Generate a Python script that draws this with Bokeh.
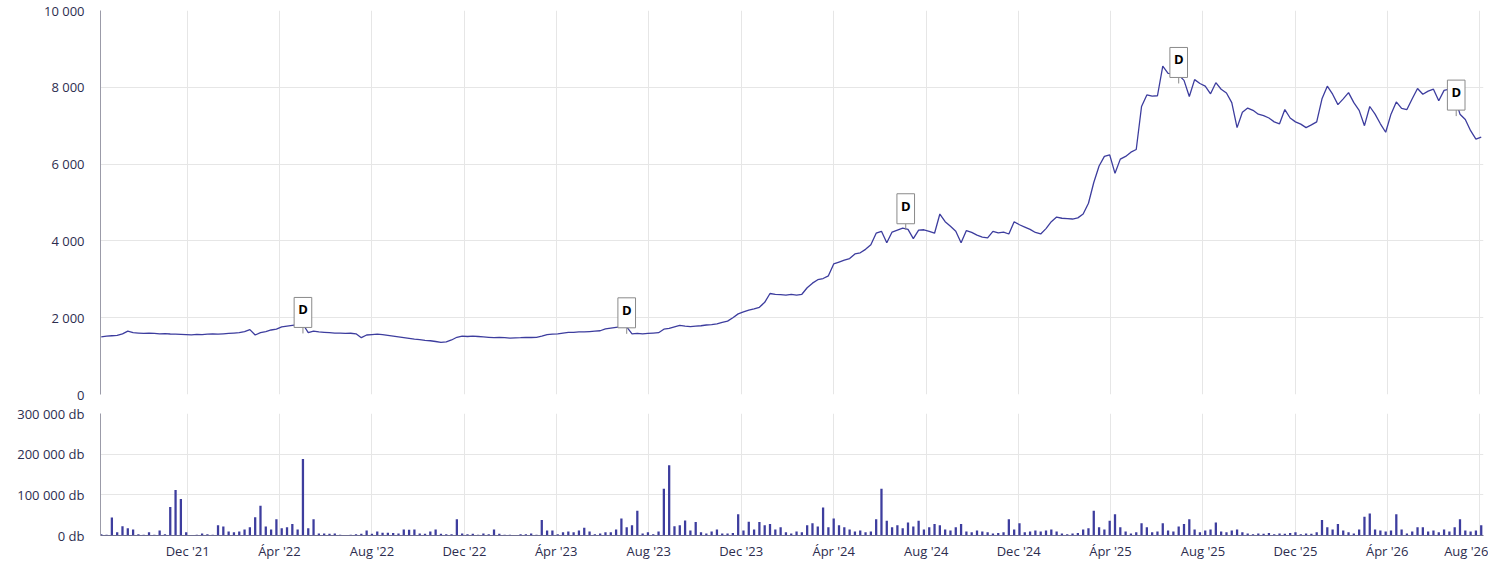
import math
import pandas as pd
from bokeh.plotting import figure
from bokeh.layouts import column
from bokeh.models import Range1d, FixedTicker, CustomJSTickFormatter
from bokeh.embed import file_html
from bokeh.resources import INLINE
from bokeh.core.properties import value

# ---------------- data ----------------
start_date = "2021-08-09"          # first weekly observation
range_start = "2021-08-08"
range_end = "2026-08-06"

price_values = [
    1500, 1520, 1530, 1540, 1580, 1650, 1610, 1600, 1590, 1595,
    1590, 1580, 1585, 1575, 1570, 1565, 1560, 1555, 1565, 1560,
    1570, 1575, 1570, 1580, 1590, 1600, 1610, 1640, 1690, 1550,
    1610, 1640, 1680, 1700, 1760, 1780, 1800, 1820, 1830, 1610,
    1650, 1630, 1620, 1610, 1600, 1600, 1590, 1595, 1580, 1480,
    1550, 1560, 1570, 1560, 1540, 1520, 1500, 1480, 1460, 1440,
    1430, 1410, 1400, 1380, 1360, 1370, 1420, 1490, 1520, 1510,
    1520, 1510, 1500, 1490, 1480, 1490, 1480, 1470, 1475, 1480,
    1490, 1485, 1490, 1520, 1560, 1570, 1580, 1600, 1620, 1620,
    1630, 1630, 1640, 1650, 1660, 1710, 1730, 1750, 1770, 1760,
    1580, 1590, 1580, 1590, 1600, 1610, 1700, 1720, 1760, 1800,
    1780, 1770, 1780, 1790, 1810, 1820, 1840, 1880, 1910, 2000,
    2100, 2150, 2200, 2230, 2270, 2400, 2630, 2610, 2600, 2590,
    2610, 2590, 2610, 2780, 2900, 2990, 3020, 3090, 3400, 3450,
    3500, 3540, 3660, 3690, 3780, 3900, 4200, 4250, 3950, 4230,
    4280, 4330, 4300, 4060, 4280, 4290, 4250, 4200, 4700, 4500,
    4380, 4250, 3950, 4270, 4220, 4150, 4100, 4080, 4250, 4210,
    4230, 4180, 4500, 4420, 4360, 4300, 4220, 4180, 4320, 4500,
    4620, 4590, 4580, 4570, 4600, 4700, 4980, 5520, 5950, 6200,
    6240, 5760, 6130, 6200, 6310, 6380, 7500, 7800, 7770, 7780,
    8550, 8360, 8350, 8320, 8180, 7760, 8200, 8100, 8030, 7830,
    8120, 7950, 7850, 7600, 6950, 7350, 7460, 7400, 7300, 7260,
    7200, 7100, 7050, 7420, 7200, 7100, 7040, 6950, 7020, 7100,
    7700, 8030, 7820, 7550, 7700, 7860, 7600, 7400, 7000, 7500,
    7300, 7050, 6830, 7300, 7620, 7450, 7420, 7700, 7970, 7820,
    7900, 7950, 7650, 7920, 7950, 7750, 7300, 7160, 6870, 6650,
    6700,
]

volume_values = [
    3000, 2000, 44000, 8000, 23000, 18000, 15000, 3000, 2000, 8000,
    2000, 12000, 3000, 70000, 112000, 90000, 8000, 1000, 2000, 5000,
    3000, 2000, 25000, 22000, 10000, 8000, 10000, 15000, 20000, 45000,
    73000, 22000, 15000, 40000, 18000, 20000, 28000, 15000, 188000, 18000,
    40000, 5000, 5000, 4000, 5000, 2000, 1000, 2000, 3000, 4000,
    12000, 4000, 10000, 7000, 7000, 6000, 5000, 15000, 14000, 15000,
    5000, 4000, 10000, 15000, 4000, 3000, 3000, 40000, 5000, 3000,
    4000, 2000, 5000, 3000, 15000, 4000, 2000, 2000, 1000, 3000,
    3000, 5000, 2000, 38000, 12000, 12000, 3000, 8000, 10000, 8000,
    12000, 19000, 10000, 3000, 5000, 8000, 8000, 15000, 42000, 20000,
    25000, 61000, 5000, 8000, 3000, 10000, 115000, 173000, 23000, 25000,
    37000, 12000, 33000, 8000, 5000, 10000, 15000, 5000, 5000, 6000,
    52000, 12000, 34000, 15000, 33000, 25000, 28000, 15000, 20000, 8000,
    5000, 10000, 8000, 25000, 30000, 22000, 69000, 20000, 42000, 25000,
    20000, 15000, 10000, 12000, 8000, 10000, 40000, 115000, 36000, 20000,
    25000, 18000, 32000, 22000, 36000, 15000, 20000, 28000, 25000, 15000,
    12000, 20000, 28000, 10000, 8000, 12000, 10000, 8000, 5000, 6000,
    8000, 40000, 15000, 30000, 8000, 10000, 12000, 10000, 12000, 15000,
    10000, 5000, 3000, 5000, 6000, 15000, 18000, 61000, 20000, 15000,
    36000, 52000, 20000, 10000, 5000, 8000, 30000, 20000, 8000, 10000,
    30000, 12000, 10000, 22000, 28000, 40000, 15000, 8000, 12000, 15000,
    32000, 10000, 8000, 12000, 15000, 8000, 5000, 3000, 5000, 4000,
    6000, 3000, 5000, 4000, 6000, 8000, 3000, 5000, 4000, 8000,
    38000, 20000, 15000, 28000, 12000, 8000, 5000, 15000, 46000, 54000,
    15000, 12000, 10000, 12000, 52000, 15000, 5000, 10000, 20000, 20000,
    10000, 12000, 8000, 15000, 10000, 20000, 40000, 12000, 10000, 12000,
    25000,
]

div_dates = ["2022-05-02", "2023-07-03", "2024-07-05", "2025-06-30", "2026-07-01"]
div_values = [1590, 1580, 4290, 8100, 7250]
div_labels = ["D", "D", "D", "D", "D"]

tick_dates = ["2021-12-01", "2022-04-01", "2022-08-01", "2022-12-01", "2023-04-01",
              "2023-08-01", "2023-12-01", "2024-04-01", "2024-08-01", "2024-12-01",
              "2025-04-01", "2025-08-01", "2025-12-01", "2026-04-01", "2026-08-01"]
tick_labels = ["Dec '21", "Ápr '22", "Aug '22", "Dec '22", "Ápr '23",
               "Aug '23", "Dec '23", "Ápr '24", "Aug '24", "Dec '24",
               "Ápr '25", "Aug '25", "Dec '25", "Ápr '26", "Aug '26"]

price_ticks = [0, 2000, 4000, 6000, 8000, 10000]
volume_ticks = [0, 100000, 200000, 300000]
volume_suffix = " db"

# ---------------- styling ----------------
FONT = "Open Sans"
LABEL_COLOR = "#2d2d4f"
SERIES_COLOR = "#3d3d9e"
GRID_COLOR = "#e6e6e6"
AXIS_COLOR = "#9b9ba8"

dates = pd.date_range(start_date, periods=len(price_values), freq="7D")
div_dt = pd.to_datetime(div_dates)
tick_ms = [float(pd.Timestamp(d).value // 10**6) for d in tick_dates]

xr = Range1d(pd.Timestamp(range_start), pd.Timestamp(range_end))

num_code = r"""
return tick.toFixed(0).replace(/\B(?=(\d{3})+(?!\d))/g, " ") + sfx;
"""


def style(p):
    p.background_fill_color = "white"
    p.border_fill_color = "white"
    p.outline_line_color = None
    p.xgrid.grid_line_color = GRID_COLOR
    p.ygrid.grid_line_color = GRID_COLOR
    p.yaxis.axis_line_color = AXIS_COLOR
    p.yaxis.major_tick_line_color = None
    p.yaxis.minor_tick_line_color = None
    p.yaxis.major_tick_out = 0
    p.yaxis.major_label_standoff = 16
    p.yaxis.major_label_text_font = FONT
    p.yaxis.major_label_text_font_size = "13px"
    p.yaxis.major_label_text_color = LABEL_COLOR


# ---------------- price panel ----------------
p1 = figure(width=1488, height=404, x_axis_type="datetime", x_range=xr,
            y_range=Range1d(price_ticks[0], price_ticks[-1]),
            x_axis_location=None, output_backend="svg", toolbar_location=None,
            min_border_left=100, min_border_right=5, min_border_top=10,
            min_border_bottom=10)
style(p1)
p1.xgrid.ticker = FixedTicker(ticks=tick_ms)
p1.yaxis.ticker = FixedTicker(ticks=price_ticks)
p1.ygrid.ticker = FixedTicker(ticks=price_ticks)
p1.yaxis.formatter = CustomJSTickFormatter(args=dict(sfx=""), code=num_code)

p1.line(dates, price_values, line_color=SERIES_COLOR, line_width=1.3)

p1.ray(x=div_dt, y=div_values, length=6, length_units="screen",
       angle=math.pi / 2, line_color="#8a8a8a", line_width=1)
p1.text(x=div_dt, y=div_values, text=div_labels, text_align="center",
        text_baseline="bottom", y_offset=-6,
        text_font=value(FONT), text_font_style="bold", text_font_size="13px",
        text_color="black", background_fill_color="white",
        border_line_color="#8a8a8a", border_line_width=1,
        padding=dict(left=4, right=4, top=3, bottom=9))

# ---------------- volume panel ----------------
p2 = figure(width=1488, height=158, x_axis_type="datetime", x_range=xr,
            y_range=Range1d(volume_ticks[0], volume_ticks[-1]),
            output_backend="svg", toolbar_location=None,
            min_border_left=100, min_border_right=5, min_border_top=9,
            min_border_bottom=26)
style(p2)
p2.yaxis.ticker = FixedTicker(ticks=volume_ticks)
p2.ygrid.ticker = FixedTicker(ticks=volume_ticks)
p2.yaxis.formatter = CustomJSTickFormatter(args=dict(sfx=volume_suffix), code=num_code)

p2.xaxis.ticker = FixedTicker(ticks=tick_ms)
p2.xgrid.ticker = FixedTicker(ticks=tick_ms)
p2.xaxis.formatter = CustomJSTickFormatter(
    args=dict(tick_pos=tick_ms, tick_text=tick_labels),
    code="""
for (let i = 0; i < tick_pos.length; i++) {
  if (Math.abs(tick_pos[i] - tick) < 1000) { return tick_text[i]; }
}
return "";
""")
p2.xaxis.axis_line_color = "#6e6e90"
p2.xaxis.major_tick_line_color = None
p2.xaxis.minor_tick_line_color = None
p2.xaxis.major_tick_out = 0
p2.xaxis.major_label_standoff = 6
p2.xaxis.major_label_text_font = FONT
p2.xaxis.major_label_text_font_size = "13px"
p2.xaxis.major_label_text_color = LABEL_COLOR

p2.vbar(x=dates, top=volume_values, width=3 * 86400000,
        fill_color=SERIES_COLOR, line_color=None)

layout = column(p1, p2)
open("out.html", "w").write(file_html(layout, INLINE))
